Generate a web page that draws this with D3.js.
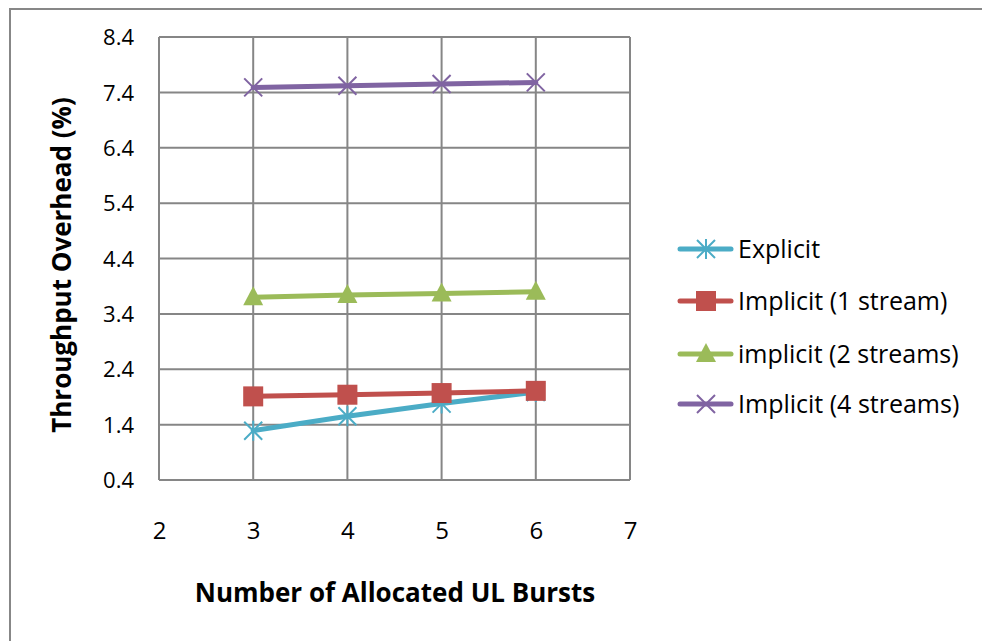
<!DOCTYPE html>
<html>
<head>
<meta charset="utf-8">
<script src="https://cdn.jsdelivr.net/npm/d3@7"></script>
<style>
  body { margin: 0; background: #fff; }
  text { font-family: 'Open Sans', 'Noto Sans', sans-serif; fill: #000; }
</style>
</head>
<body>
<div id="chart"></div>
<script>
// data
const bursts = [3, 4, 5, 6]
const explicit = [1.29, 1.55, 1.78, 1.99]
const implicit1 = [1.91, 1.94, 1.97, 2.01]
const implicit2 = [3.70, 3.74, 3.77, 3.80]
const implicit4 = [7.49, 7.52, 7.55, 7.58]
const xTicks = [2, 3, 4, 5, 6, 7]
const yTicks = [0.4, 1.4, 2.4, 3.4, 4.4, 5.4, 6.4, 7.4, 8.4]

const series = [
  { name: 'Explicit', values: explicit, color: '#4BACC6', marker: 'star' },
  { name: 'Implicit (1 stream)', values: implicit1, color: '#C0504D', marker: 'square' },
  { name: 'implicit (2 streams)', values: implicit2, color: '#9BBB59', marker: 'triangle' },
  { name: 'Implicit (4 streams)', values: implicit4, color: '#8064A2', marker: 'x' }
]

const width = 982
const height = 641
const plot = { left: 159, right: 630, top: 37, bottom: 480 }

const svg = d3.select('#chart').append('svg')
  .attr('width', width)
  .attr('height', height)

// outer frame
svg.append('rect')
  .attr('x', 10).attr('y', 9)
  .attr('width', width).attr('height', height)
  .attr('fill', 'none')
  .attr('stroke', '#878787')
  .attr('stroke-width', 2)

const x = d3.scaleLinear().domain([2, 7]).range([plot.left, plot.right])
const y = d3.scaleLinear().domain([0.4, 8.4]).range([plot.bottom, plot.top])

// grid
const grid = svg.append('g').attr('stroke', '#868686').attr('stroke-width', 2)
grid.selectAll('.vg').data(xTicks).join('line')
  .attr('x1', d => x(d)).attr('x2', d => x(d))
  .attr('y1', plot.top).attr('y2', plot.bottom)
grid.selectAll('.hg').data(yTicks).join('line')
  .attr('x1', plot.left).attr('x2', plot.right)
  .attr('y1', d => y(d)).attr('y2', d => y(d))

// axes (labels only)
const yAxis = svg.append('g')
  .attr('transform', `translate(${plot.left - 25},0)`)
  .call(d3.axisLeft(y).tickValues(yTicks).tickFormat(d3.format('.1f')).tickSize(0))
yAxis.select('.domain').remove()
yAxis.selectAll('text').style('font-size', '22px').attr('x', 0).attr('dy', '0.35em')

const xAxis = svg.append('g')
  .attr('transform', `translate(0,${plot.bottom + 42})`)
  .call(d3.axisBottom(x).tickValues(xTicks).tickFormat(d3.format('d')).tickSize(0))
xAxis.select('.domain').remove()
xAxis.selectAll('text').style('font-size', '24px').attr('y', 0).attr('dy', '0.71em')

// axis titles
svg.append('text')
  .attr('transform', `translate(71, 265) rotate(-90)`)
  .attr('text-anchor', 'middle')
  .style('font-size', '26px')
  .attr('font-weight', 'bold')
  .text('Throughput Overhead (%)')

svg.append('text')
  .attr('x', 395).attr('y', 602)
  .attr('text-anchor', 'middle')
  .style('font-size', '26px')
  .attr('font-weight', 'bold')
  .text('Number of Allocated UL Bursts')

// markers
function drawMarker (g, type, color) {
  if (type === 'square') {
    g.append('rect').attr('x', -10).attr('y', -10).attr('width', 20).attr('height', 20)
      .attr('fill', color)
  } else if (type === 'triangle') {
    g.append('path').attr('d', 'M0,-11 L10,8 L-10,8 Z').attr('fill', color)
  } else if (type === 'x') {
    g.append('path').attr('d', 'M-9,-9 L9,9 M-9,9 L9,-9')
      .attr('stroke', color).attr('stroke-width', 2).attr('fill', 'none')
  } else {
    g.append('path').attr('d', 'M-9,-9 L9,9 M-9,9 L9,-9 M0,-10 L0,10')
      .attr('stroke', color).attr('stroke-width', 2).attr('fill', 'none')
  }
}

const line = d3.line()
  .x((d, i) => x(bursts[i]))
  .y(d => y(d))

series.forEach(s => {
  svg.append('path')
    .attr('d', line(s.values))
    .attr('fill', 'none')
    .attr('stroke', s.color)
    .attr('stroke-width', 5)
    .attr('stroke-linecap', 'round')
  s.values.forEach((v, i) => {
    const g = svg.append('g').attr('transform', `translate(${x(bursts[i])},${y(v)})`)
    drawMarker(g, s.marker, s.color)
  })
})

// legend
const legendY = [249, 301, 354, 404]
series.forEach((s, i) => {
  const g = svg.append('g').attr('transform', `translate(0,${legendY[i]})`)
  g.append('line')
    .attr('x1', 680).attr('x2', 731)
    .attr('stroke', s.color).attr('stroke-width', 5).attr('stroke-linecap', 'round')
  const m = g.append('g').attr('transform', 'translate(706,0)')
  drawMarker(m, s.marker, s.color)
  g.append('text')
    .attr('x', 738).attr('dy', '0.35em')
    .style('font-size', '25px')
    .text(s.name)
})
</script>
</body>
</html>
